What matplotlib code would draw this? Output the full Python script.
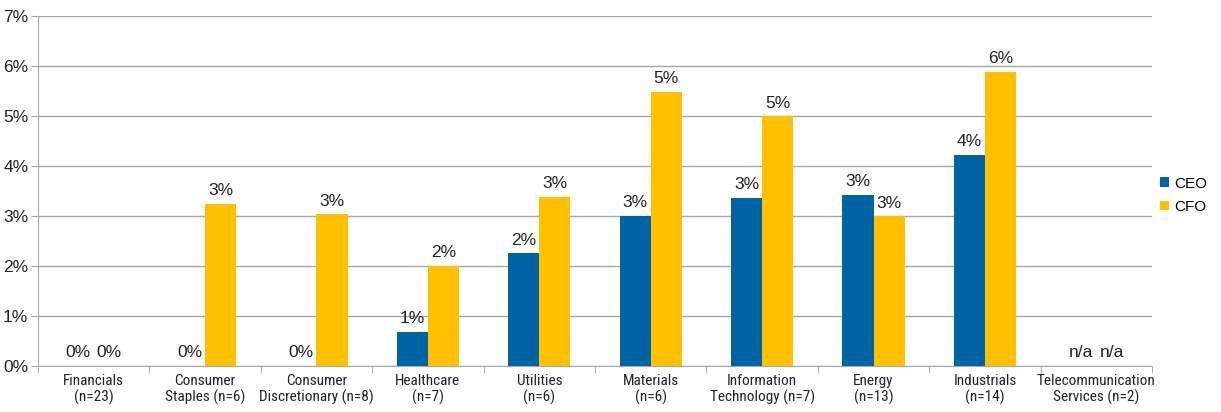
import matplotlib
matplotlib.use("Agg")
import matplotlib.pyplot as plt
from matplotlib import font_manager
import numpy as np
from matplotlib.ticker import FixedLocator, PercentFormatter

categories = ["Financials\n(n=23)", "Consumer\nStaples (n=6)", "Consumer\nDiscretionary (n=8)",
              "Healthcare\n(n=7)", "Utilities\n(n=6)", "Materials\n(n=6)",
              "Information\nTechnology (n=7)", "Energy\n(n=13)", "Industrials\n(n=14)",
              "Telecommunication\nServices (n=2)"]
ceo = [0, 0, 0, 0.68, 2.25, 3.0, 3.36, 3.42, 4.22, 0]
cfo = [0, 3.24, 3.03, 2.0, 3.38, 5.48, 4.99, 2.99, 5.88, 0]
ceo_labels = ["0%", "0%", "0%", "1%", "2%", "3%", "3%", "3%", "4%", "n/a"]
cfo_labels = ["0%", "3%", "3%", "2%", "3%", "5%", "5%", "3%", "6%", "n/a"]

blue = "#0063a6"
gold = "#ffc000"
grid = "#a6a6a6"


def pick(names):
    # first installed family from the list
    for n in names:
        try:
            font_manager.findfont(font_manager.FontProperties(family=n),
                                  fallback_to_default=False)
            return n
        except Exception:
            pass
    return "DejaVu Sans"


narrow = pick(["Liberation Sans Narrow", "Roboto Condensed", "DejaVu Sans Condensed",
               "Open Sans Condensed", "Liberation Sans"])
narrow_size = 11 if narrow != "Liberation Sans" else 10

fig = plt.figure(figsize=(12.21, 4.12), dpi=100)
ax = fig.add_axes([0.0311, 0.1117, 0.9124, 0.8495])

x = np.arange(len(categories))
w = 0.28
ax.bar(x - w / 2, ceo, w, color=blue, label="CEO", zorder=3)
ax.bar(x + w / 2, cfo, w, color=gold, label="CFO", zorder=3)

lab_font = dict(family=["Liberation Sans", "DejaVu Sans"], size=12.5, color="#222222")
for i in range(len(categories)):
    ax.annotate(ceo_labels[i], (x[i] - w / 2, ceo[i]), xytext=(0, 4),
                textcoords="offset points", ha="center", va="bottom", **lab_font)
    ax.annotate(cfo_labels[i], (x[i] + w / 2, cfo[i]), xytext=(0, 4),
                textcoords="offset points", ha="center", va="bottom", **lab_font)

ax.set_xlim(-0.5, len(categories) - 0.5)
ax.set_ylim(0, 7)
ax.yaxis.set_major_locator(FixedLocator(range(8)))
ax.yaxis.set_major_formatter(PercentFormatter(decimals=0))
ax.grid(axis="y", color=grid, linewidth=1, zorder=0)

ax.set_xticks(x)
ax.set_xticklabels(categories, family=[narrow, "DejaVu Sans"],
                   fontsize=narrow_size, color="#222222", linespacing=1.1)
ax.tick_params(axis="x", length=0, pad=6)
ax.set_xticks(np.arange(len(categories) + 1) - 0.5, minor=True)
ax.tick_params(axis="x", which="minor", length=5, color=grid)
ax.tick_params(axis="y", length=5, color=grid, labelsize=12.5, pad=2)
for t in ax.get_yticklabels():
    t.set_family(["Liberation Sans", "DejaVu Sans"])
    t.set_color("#222222")

for s in ["top", "right"]:
    ax.spines[s].set_visible(False)
ax.spines["left"].set_color(grid)
ax.spines["bottom"].set_color(grid)

leg = fig.legend(loc="upper left", bbox_to_anchor=(0.949, 0.575), frameon=False,
                 handlelength=0.6, handleheight=0.6, handletextpad=0.3,
                 borderpad=0.1, borderaxespad=0, labelspacing=0.6,
                 prop={"family": ["Liberation Sans", "DejaVu Sans"], "size": 11})

fig.savefig("out.png", dpi=100)
